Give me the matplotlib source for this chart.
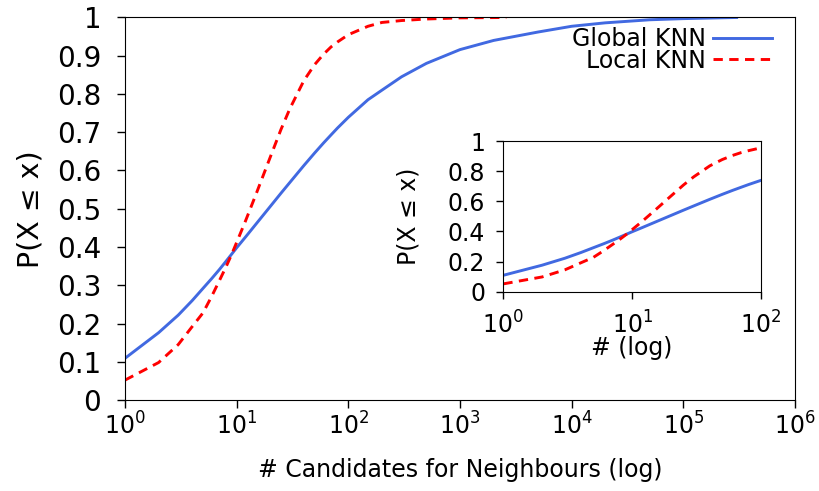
import matplotlib
matplotlib.use("Agg")
import matplotlib.pyplot as plt
from matplotlib.ticker import FixedLocator, FuncFormatter, LogFormatterSciNotation, NullLocator

# CDF of the number of neighbour candidates
global_counts = [1, 2, 3, 4, 5, 6, 7, 8, 9, 10, 12, 15, 20, 25, 30, 40, 50, 60, 70,
                 80, 100, 150, 200, 300, 500, 1000, 2000, 5000, 10000, 20000,
                 50000, 100000, 300000]
global_cdf = [0.109, 0.176, 0.222, 0.26, 0.292, 0.318, 0.341, 0.362, 0.381, 0.398,
              0.426, 0.461, 0.506, 0.541, 0.569, 0.613, 0.646, 0.672, 0.693,
              0.711, 0.739, 0.785, 0.810, 0.845, 0.880, 0.916, 0.940, 0.962,
              0.977, 0.986, 0.994, 0.997, 1.0]

local_counts = [1, 2, 3, 4, 5, 6, 7, 8, 9, 10, 12, 15, 20, 25, 30, 40, 50, 60, 70,
                80, 100, 150, 200, 300, 500, 1000, 2600]
local_cdf = [0.052, 0.098, 0.145, 0.192, 0.228, 0.272, 0.312, 0.347, 0.380, 0.412,
             0.468, 0.540, 0.635, 0.708, 0.762, 0.835, 0.877, 0.904, 0.923,
             0.936, 0.955, 0.977, 0.987, 0.992, 0.996, 0.999, 1.0]

main_xticks = [1, 10, 100, 1000, 10000, 100000, 1000000]
main_yticks = [0, 0.1, 0.2, 0.3, 0.4, 0.5, 0.6, 0.7, 0.8, 0.9, 1]
inset_xticks = [1, 10, 100]
inset_yticks = [0, 0.2, 0.4, 0.6, 0.8, 1]

BLUE = "#4169e1"
RED = "#ff0000"
LW = 2.1
DASH = (0, (3.2, 2.2))
fmt = FuncFormatter(lambda v, _: "%g" % v)

fig = plt.figure(figsize=(8.19, 4.91), dpi=100)

ax = fig.add_axes([0.1526, 0.1853, 0.8181, 0.7791])
ax.plot(global_counts, global_cdf, color=BLUE, lw=LW, label="Global KNN")
ax.plot(local_counts, local_cdf, color=RED, lw=LW, ls=DASH, label="Local KNN")
ax.set_xscale("log")
ax.set_xlim(1, 1e6)
ax.set_ylim(0, 1)
ax.xaxis.set_major_locator(FixedLocator(main_xticks))
ax.xaxis.set_major_formatter(LogFormatterSciNotation())
ax.xaxis.set_minor_locator(NullLocator())
ax.yaxis.set_major_locator(FixedLocator(main_yticks))
ax.yaxis.set_major_formatter(fmt)
ax.tick_params(axis="y", labelsize=20, direction="out", length=6, width=1, pad=11)
ax.tick_params(axis="x", labelsize=17, direction="out", length=6, width=1, pad=3)
ax.set_xlabel("# Candidates for Neighbours (log)", fontsize=17, labelpad=13)
ax.set_ylabel("P(X ≤ x)", fontsize=20.5, labelpad=9)
ax.legend(loc="upper right", frameon=False, markerfirst=False, fontsize=17,
          handlelength=2.5, handletextpad=0.3, labelspacing=-0.1,
          borderaxespad=0, borderpad=0, bbox_to_anchor=(0.966, 0.975))

ins = fig.add_axes([0.6146, 0.4059, 0.3146, 0.3069])
ins.plot(global_counts, global_cdf, color=BLUE, lw=LW)
ins.plot(local_counts, local_cdf, color=RED, lw=LW, ls=DASH)
ins.set_xscale("log")
ins.set_xlim(1, 100)
ins.set_ylim(0, 1)
ins.xaxis.set_major_locator(FixedLocator(inset_xticks))
ins.xaxis.set_major_formatter(LogFormatterSciNotation())
ins.xaxis.set_minor_locator(NullLocator())
ins.yaxis.set_major_locator(FixedLocator(inset_yticks))
ins.yaxis.set_major_formatter(fmt)
ins.tick_params(axis="y", labelsize=17, direction="out", length=5, width=1, pad=8)
ins.tick_params(axis="x", labelsize=17, direction="out", length=5, width=1, pad=9)
ins.set_xlabel("# (log)", fontsize=17, labelpad=-2)
ins.set_ylabel("P(X ≤ x)", fontsize=17, labelpad=20)

fig.savefig("out.png", dpi=100)
